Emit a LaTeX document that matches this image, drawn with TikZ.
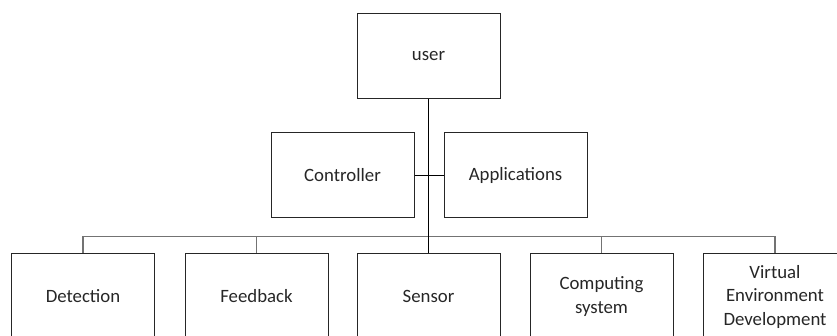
\documentclass[tikz,border=0pt]{standalone}
\usepackage{fontspec}
\setmainfont{Carlito}
\begin{document}
\begin{tikzpicture}[x=1pt,y=-1pt,
  box/.style={draw=black!85,line width=1pt,rectangle,minimum width=143pt,minimum height=85pt,inner sep=0pt,align=center,font=\fontsize{18.8}{23.5}\selectfont,text=black!85},
  main/.style={draw=black,line width=1.6pt},
  bus/.style={draw=black!55,line width=1.3pt}]
\useasboundingbox (0,0) rectangle (837,336);
\clip (0,0) rectangle (837,336);
\node[box] (user) at (428.5,56) {user};
\node[box] (ctrl) at (342.5,175.5) {Controller};
\node[box] (app) at (515.5,175.5) {Applications};
\node[box] (det) at (83,296.5) {Detection};
\node[box] (feed) at (256.5,296.5) {Feedback};
\node[box] (sens) at (428.5,296.5) {Sensor};
\node[box] (comp) at (601.5,296.5) {Computing\\system};
\node[box] (virt) at (775,296.5) {Virtual\\Environment\\Development};
\coordinate (busL) at (83,236.5);
\coordinate (busR) at (775,236.5);
\coordinate (hub) at (428.5,236.5);
\draw[bus] (busL) -- (busR);
\draw[bus] (busL) -- (det.north);
\draw[bus] (feed.north |- busL) -- (feed.north);
\draw[bus] (comp.north |- busL) -- (comp.north);
\draw[bus] (busR) -- (virt.north);
\draw[main] (user.south) -- (sens.north);
\draw[draw=black,line width=1.1pt] (ctrl.east) -- (app.west);
\end{tikzpicture}
\end{document}
